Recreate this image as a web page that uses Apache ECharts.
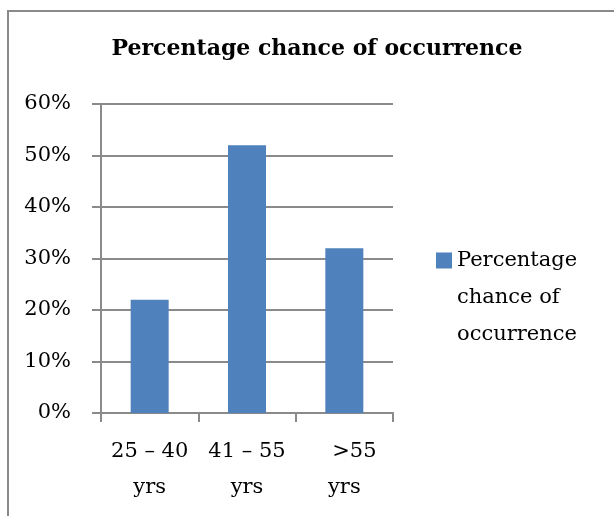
<!DOCTYPE html>
<html>
<head>
<meta charset="utf-8">
<script src="https://cdn.jsdelivr.net/npm/echarts@6/dist/echarts.min.js"></script>
<style>
html,body{margin:0;padding:0;background:#fff;}
#chart{width:614px;height:516px;}
</style>
</head>
<body>
<div id="chart"></div>
<script>
var titleText = 'Percentage chance of occurrence';
var seriesName = 'Percentage chance of occurrence';
var legendLines = ['Percentage', 'chance of', 'occurrence'];
var categories = ['25 – 40\nyrs', '41 – 55\nyrs', '   >55\nyrs'];
var values = [22, 52, 32];
var yTicks = [0, 10, 20, 30, 40, 50, 60];

var FONT = 'DejaVu Serif';
var GREY = '#8a8a8a';
var chart = echarts.init(document.getElementById('chart'), null, {renderer: 'canvas'});
chart.setOption({
  animation: false,
  backgroundColor: '#ffffff',
  graphic: [{
    type: 'rect',
    shape: {x: 8, y: 11, width: 800, height: 800},
    style: {fill: 'none', stroke: GREY, lineWidth: 2},
    silent: true
  }],
  title: {
    text: titleText,
    left: 312,
    textAlign: 'center',
    top: 33,
    textStyle: {fontFamily: FONT, fontWeight: 'bold', fontSize: 22, color: '#000'}
  },
  legend: {
    data: [seriesName],
    orient: 'vertical',
    left: 436,
    top: 168,
    padding: 0,
    itemWidth: 16,
    itemHeight: 16,
    icon: 'rect',
    formatter: function () { return '\n\n' + legendLines.join('\n'); },
    textStyle: {fontFamily: FONT, fontSize: 21, color: '#000', lineHeight: 37}
  },
  grid: {left: 101, top: 104, width: 292, height: 309, containLabel: false},
  xAxis: {
    type: 'category',
    data: categories,
    boundaryGap: true,
    axisLine: {show: true, lineStyle: {color: GREY, width: 2}},
    axisTick: {show: true, length: 9, lineStyle: {color: GREY, width: 2}},
    axisLabel: {fontFamily: FONT, fontSize: 21, color: '#000', lineHeight: 36, margin: 21, interval: 0}
  },
  yAxis: {
    type: 'value',
    min: yTicks[0],
    max: yTicks[yTicks.length - 1],
    interval: 10,
    axisLine: {show: true, lineStyle: {color: GREY, width: 2}},
    axisTick: {show: true, length: 9, lineStyle: {color: GREY, width: 2}},
    splitLine: {show: true, lineStyle: {color: GREY, width: 2}},
    axisLabel: {fontFamily: FONT, fontSize: 21, color: '#000', margin: 30, formatter: '{value}%'}
  },
  series: [{
    name: seriesName,
    type: 'bar',
    data: values,
    barWidth: 38,
    itemStyle: {color: '#4F81BD'}
  }]
});
</script>
</body>
</html>
